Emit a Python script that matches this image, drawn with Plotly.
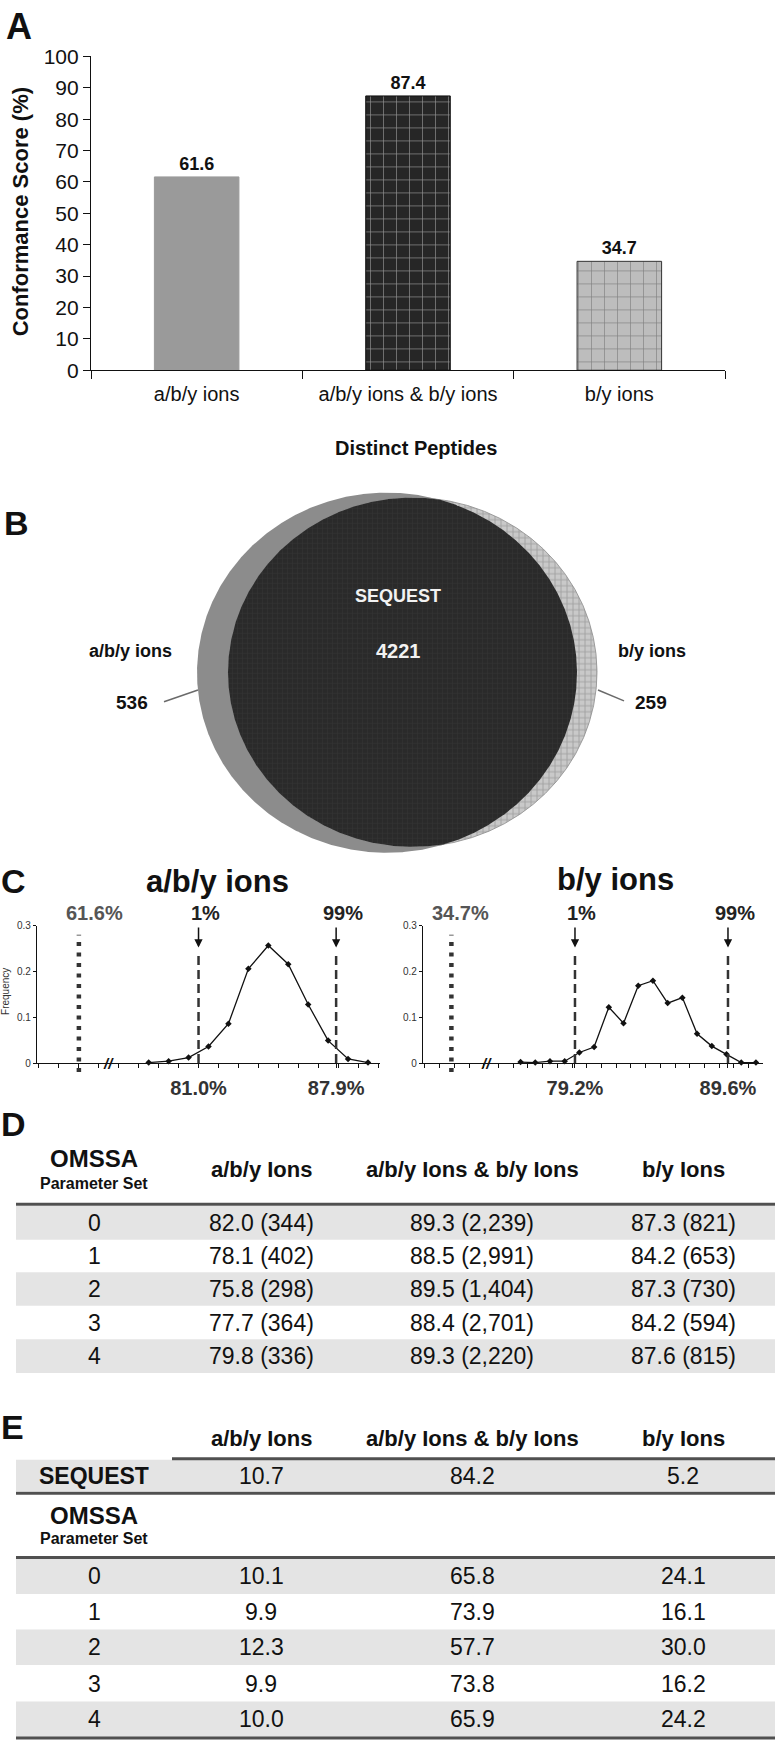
"""
Figura multipanel: conformance score, Venn SEQUEST, distribuciones y tablas OMSSA.
"""
import numpy as np
import plotly.graph_objects as go

W, H = 775, 1751
FONT = "Liberation Sans, Arial, Helvetica, sans-serif"

# ---- datos -------------------------------------------------------------
categories = ["a/b/y ions", "a/b/y ions & b/y ions", "b/y ions"]
conformance = [61.6, 87.4, 34.7]

venn_engine = "SEQUEST"
venn_sets = ["a/b/y ions", "b/y ions"]
venn_only = [536, 259]
venn_shared = 4221

aby_bins = [78.5, 79.5, 80.5, 81.5, 82.5, 83.5, 84.5, 85.5, 86.5, 87.5, 88.5, 89.5]
aby_freq = [0.001, 0.004, 0.012, 0.036, 0.086, 0.206, 0.257, 0.216, 0.128, 0.049, 0.009, 0.001]
aby_cut = [81.0, 87.9]
aby_obs = 61.6

by_bins = [75.5, 76.5, 77.5, 78.5, 79.5, 80.5, 81.5, 82.5, 83.5, 84.5, 85.5,
           86.5, 87.5, 88.5, 89.5, 90.5, 91.5]
by_freq = [0.002, 0.001, 0.004, 0.004, 0.023, 0.035, 0.122, 0.087, 0.169, 0.180,
           0.131, 0.143, 0.064, 0.037, 0.019, 0.001, 0.001]
by_cut = [79.2, 89.6]
by_obs = 34.7
cut_names = ["1%", "99%"]

table_cols = ["a/b/y Ions", "a/b/y Ions & b/y Ions", "b/y Ions"]
param_sets = ["0", "1", "2", "3", "4"]
d_aby_score = [82.0, 78.1, 75.8, 77.7, 79.8]
d_aby_n = [344, 402, 298, 364, 336]
d_both_score = [89.3, 88.5, 89.5, 88.4, 89.3]
d_both_n = [2239, 2991, 1404, 2701, 2220]
d_by_score = [87.3, 84.2, 87.3, 84.2, 87.6]
d_by_n = [821, 653, 730, 594, 815]

e_sequest = [10.7, 84.2, 5.2]
e_aby = [10.1, 9.9, 12.3, 9.9, 10.0]
e_both = [65.8, 73.9, 57.7, 73.8, 65.9]
e_by = [24.1, 16.1, 30.0, 16.2, 24.2]


# ---- helpers -----------------------------------------------------------
def px(x):
    return x / W


def py(y):
    return 1 - y / H


annotations = []
shapes = []


def label(text, x, y, size, bold=False, color="#111", angle=0, **kw):
    annotations.append(dict(
        text=f"<b>{text}</b>" if bold else text, x=px(x), y=py(y),
        xref="paper", yref="paper", xanchor="center", yanchor="middle",
        showarrow=False, textangle=angle,
        font=dict(family=FONT, size=size, color=color), **kw))


def hline(y, x0, x1, width=3, color="#505050"):
    shapes.append(dict(type="line", xref="paper", yref="paper",
                       x0=px(x0), x1=px(x1), y0=py(y), y1=py(y),
                       line=dict(color=color, width=width)))


def band(yc, h, x0=16, x1=775, color="#e4e4e4"):
    shapes.append(dict(type="rect", xref="paper", yref="paper", layer="below",
                       x0=px(x0), x1=px(x1), y0=py(yc + h / 2), y1=py(yc - h / 2),
                       fillcolor=color, line=dict(width=0)))


def ellipse(cx, cy, rx, ry, n=1441):
    t = np.linspace(0, 2 * np.pi, n)
    return cx + rx * np.cos(t), cy + ry * np.sin(t)


def inside(x, y, e):
    cx, cy, rx, ry = e
    return ((x - cx) / rx) ** 2 + ((y - cy) / ry) ** 2 <= 1.0


fig = go.Figure()

# ---- A: barras ---------------------------------------------------------
bar_bg = ["#9a9a9a", "#262626", "#bdbdbd"]
fig.add_trace(go.Bar(
    x=categories, y=conformance, width=0.4,
    marker=dict(
        color=bar_bg,
        line=dict(color=["#9a9a9a", "#111111", "#333333"], width=1),
        pattern=dict(shape=["", "+", "+"], fgcolor=["#9a9a9a", "#858585", "#5a5a5a"],
                     bgcolor=bar_bg, size=13, solidity=0.1),
    ),
    text=[f"{v:.1f}" for v in conformance], textposition="outside",
    textfont=dict(family=FONT, size=18, color="#111", weight="bold"),
    cliponaxis=False, xaxis="x", yaxis="y", showlegend=False, hoverinfo="skip",
))

label("A", 19, 15, 36, bold=True)
label("Conformance Score (%)", 20, 203, 22, bold=True, angle=-90)
label("Distinct Peptides", 416, 442, 20, bold=True)

# ---- B: Venn -----------------------------------------------------------
ell_a = (387, 669.5, 190, 182.5)   # a/b/y ions
ell_b = (412.5, 669, 184.5, 177)   # b/y ions
xa, ya = ellipse(*ell_a)
xb, yb = ellipse(*ell_b)
pts = np.concatenate([np.c_[xa, ya][inside(xa, ya, ell_b)],
                      np.c_[xb, yb][inside(xb, yb, ell_a)]])
cen = pts.mean(axis=0)
pts = pts[np.argsort(np.arctan2(pts[:, 1] - cen[1], pts[:, 0] - cen[0]))]
pts = np.vstack([pts, pts[:1]])

fig.add_trace(go.Scatter(x=xa, y=ya, mode="lines", fill="toself", fillcolor="#8c8c8c",
                         line=dict(width=0, color="#8c8c8c"), xaxis="x2", yaxis="y2",
                         showlegend=False, hoverinfo="skip"))
fig.add_trace(go.Scatter(x=xb, y=yb, mode="lines", fill="toself", fillcolor="#c9c9c9",
                         fillpattern=dict(shape="+", fgcolor="#7d7d7d", bgcolor="#c9c9c9",
                                          size=6, solidity=0.3),
                         line=dict(width=0.8, color="#8a8a8a"), xaxis="x2", yaxis="y2",
                         showlegend=False, hoverinfo="skip"))
fig.add_trace(go.Scatter(x=pts[:, 0], y=pts[:, 1], mode="lines", fill="toself",
                         fillcolor="#2a2a2a",
                         fillpattern=dict(shape="+", fgcolor="#3e3e3e", bgcolor="#2a2a2a",
                                          size=5, solidity=0.2),
                         line=dict(width=0, color="#2a2a2a"), xaxis="x2", yaxis="y2",
                         showlegend=False, hoverinfo="skip"))

for text, x, y, size, color in [
    (venn_engine, 398, 592, 18, "#f2f2f2"),
    (f"{venn_shared}", 398, 647, 20, "#f2f2f2"),
    (venn_sets[0], 130, 647, 18, "#111"),
    (f"{venn_only[0]}", 132, 700, 19, "#111"),
    (venn_sets[1], 652, 647, 18, "#111"),
    (f"{venn_only[1]}", 651, 700, 19, "#111"),
]:
    annotations.append(dict(text=f"<b>{text}</b>", x=x, y=y, xref="x2", yref="y2",
                            showarrow=False, font=dict(family=FONT, size=size, color=color)))
for x0, y0, x1, y1 in [(164, 699, 198, 687), (598, 687, 624, 698)]:
    shapes.append(dict(type="line", xref="x2", yref="y2", x0=x0, y0=y0, x1=x1, y1=y1,
                       line=dict(color="#6a6a6a", width=1.5)))

label("B", 16, 518, 34, bold=True)

# ---- C: distribuciones -------------------------------------------------
dist_panels = [
    # bins, freq, cuts, obs, xaxis, yaxis, obs stub position, axis break, label shift
    (aby_bins, aby_freq, aby_cut, aby_obs, "x3", "y3", 75.0, 76.5, 16),
    (by_bins, by_freq, by_cut, by_obs, "x4", "y4", 70.8, 73.2, 9),
]
for bins, freq, cuts, obs, xr, yr, obs_pos, brk, shift in dist_panels:
    fig.add_trace(go.Scatter(
        x=bins, y=freq, mode="lines+markers", xaxis=xr, yaxis=yr,
        line=dict(color="#111", width=1.3),
        marker=dict(symbol="diamond", size=5, color="#111"),
        cliponaxis=False, showlegend=False, hoverinfo="skip"))
    for c, name in zip(cuts, cut_names):
        shapes.append(dict(type="line", xref=xr, yref="paper", x0=c, x1=c,
                           y0=py(1065), y1=py(953),
                           line=dict(color="#333", width=2.5, dash="9px,5px")))
        # down arrow over the cut-off line, label slightly to the right
        annotations.append(dict(
            text=" ", x=c, y=py(948), xref=xr, yref="paper",
            showarrow=True, ax=0, ay=-22, arrowhead=2, arrowsize=1.1,
            arrowwidth=1.5, arrowcolor="#111", font=dict(size=1)))
        annotations.append(dict(
            text=f"<b>{name}</b>", x=c, xshift=7, y=py(913), xref=xr, yref="paper",
            showarrow=False, font=dict(family=FONT, size=20, color="#222")))
    shapes.append(dict(type="line", xref=xr, yref="paper", x0=obs_pos, x1=obs_pos,
                       y0=py(1074), y1=py(935),
                       line=dict(color="#333", width=4.5, dash="4px,6.5px")))
    annotations.append(dict(text=f"<b>{obs:.1f}%</b>", x=obs_pos, xshift=shift, y=py(913),
                            xref=xr, yref="paper", showarrow=False,
                            font=dict(family=FONT, size=20, color="#555")))
    annotations.append(dict(text="<b><i>//</i></b>", x=brk, y=py(1065), xref=xr,
                            yref="paper", showarrow=False,
                            font=dict(family=FONT, size=15, color="#111")))

label("C", 13, 881, 34, bold=True)
label("a/b/y ions", 217, 881, 31, bold=True)
label("b/y ions", 615, 879, 31, bold=True)
label("Frequency", 6, 993, 10, color="#333", angle=-90)

# ---- D: tabla de conformance por parametro -----------------------------
col_x = [94, 261, 472, 683]
label("D", 13, 1127, 34, bold=True)
label("OMSSA", col_x[0], 1162, 24, bold=True)
label("Parameter Set", col_x[0], 1187, 16, bold=True)
for cx, name in zip(col_x[1:], table_cols):
    label(name, cx, 1173, 22, bold=True)
hline(1208, 16, 775)
d_rows = [1227, 1261, 1294, 1328, 1362]
for i, yc in enumerate(d_rows):
    if i % 2 == 0:
        band(yc, 34)
    cells = [param_sets[i],
             f"{d_aby_score[i]:.1f} ({d_aby_n[i]:,})",
             f"{d_both_score[i]:.1f} ({d_both_n[i]:,})",
             f"{d_by_score[i]:.1f} ({d_by_n[i]:,})"]
    for cx, txt in zip(col_x, cells):
        label(txt, cx, yc, 23)

# ---- E: tabla de porcentajes --------------------------------------------
label("E", 12, 1434, 34, bold=True)
for cx, name in zip(col_x[1:], table_cols):
    label(name, cx, 1445, 22, bold=True)
hline(1466, 172, 775)
band(1483, 32)
label("SEQUEST", col_x[0], 1483, 23, bold=True)
for cx, v in zip(col_x[1:], e_sequest):
    label(f"{v:.1f}", cx, 1483, 23)
hline(1501, 16, 775)
label("OMSSA", col_x[0], 1524, 24, bold=True)
label("Parameter Set", col_x[0], 1547, 16, bold=True)
hline(1566, 16, 775)
e_rows = [1585, 1621, 1657, 1694, 1730]
for i, yc in enumerate(e_rows):
    if i % 2 == 0:
        band(yc, 36)
    cells = [param_sets[i], f"{e_aby[i]:.1f}", f"{e_both[i]:.1f}", f"{e_by[i]:.1f}"]
    for cx, txt in zip(col_x, cells):
        label(txt, cx, yc, 23)
hline(1749, 16, 775)

# ---- layout ------------------------------------------------------------
dist_x = dict(showline=True, linecolor="#111", linewidth=1.2, showgrid=False,
              zeroline=False, ticks="outside", ticklen=4, tickcolor="#111",
              ticklabelstandoff=3, tickangle=0,
              tickfont=dict(family=FONT, size=20, color="#333", weight="bold"),
              minor=dict(dtick=1, tick0=0, ticks="outside", ticklen=4, tickcolor="#111"))
dist_y = dict(range=[0, 0.3], tickvals=[0, 0.1, 0.2, 0.3], ticktext=["0", "0.1", "0.2", "0.3"],
              showline=True, linecolor="#111", linewidth=1.2, showgrid=False, zeroline=False,
              ticks="outside", ticklen=3, tickcolor="#111",
              tickfont=dict(family=FONT, size=10, color="#333"))

fig.update_layout(
    width=W, height=H, autosize=False,
    margin=dict(l=0, r=0, t=0, b=0),
    paper_bgcolor="white", plot_bgcolor="rgba(0,0,0,0)",
    font=dict(family=FONT, color="#111"),
    showlegend=False,
    xaxis=dict(domain=[px(91), px(725)], anchor="y", range=[-0.5, 2.5],
               showline=True, linecolor="#111", linewidth=1.2, showgrid=False,
               zeroline=False, ticks="outside", tickson="boundaries", ticklen=8,
               tickcolor="#111", ticklabelstandoff=6, tickangle=0,
               tickfont=dict(family=FONT, size=20, color="#111")),
    yaxis=dict(domain=[py(363), py(45)], anchor="x", range=[0, 100], dtick=10,
               showline=True, linecolor="#111", linewidth=1.2, showgrid=False,
               zeroline=False, ticks="outside", ticklen=7, tickcolor="#111",
               tickfont=dict(family=FONT, size=21, color="#111")),
    xaxis2=dict(domain=[0, 1], anchor="y2", range=[0, W], visible=False),
    yaxis2=dict(domain=[py(875), py(475)], anchor="x2", range=[875, 475], visible=False),
    xaxis3=dict(domain=[px(37), px(380)], anchor="y3", range=[72.9, 90.1],
                tickvals=aby_cut, ticktext=[f"{v:.1f}%" for v in aby_cut], **dist_x),
    yaxis3=dict(domain=[py(1065), py(926)], anchor="x3", **dist_y),
    xaxis4=dict(domain=[px(423), px(763)], anchor="y4", range=[68.87, 91.98],
                tickvals=by_cut, ticktext=[f"{v:.1f}%" for v in by_cut], **dist_x),
    yaxis4=dict(domain=[py(1065), py(926)], anchor="x4", **dist_y),
    annotations=annotations,
    shapes=shapes,
)

# the page body has a default 8px margin; drop it so the figure sits at (0, 0)
fig.write_html("out.html", config={"displayModeBar": False},
               post_script="document.body.style.margin='0px';")
